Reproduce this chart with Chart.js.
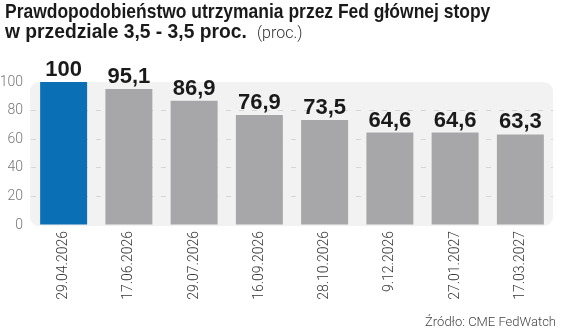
<!DOCTYPE html>
<html>
<head>
<meta charset="utf-8">
<script src="https://cdn.jsdelivr.net/npm/chart.js@4.4.1/dist/chart.umd.min.js"></script>
<style>
  html, body { margin: 0; padding: 0; background: #ffffff; }
  #wrap { position: relative; width: 564px; height: 334px; overflow: hidden; }
  canvas { position: absolute; left: 0; top: 0; }
  .t { position: absolute; white-space: nowrap; transform-origin: 0 0;
       font-family: "Liberation Sans Narrow", "Liberation Sans", sans-serif; font-weight: bold;
       font-size: 21px; line-height: 20px; color: #1a1a1a; }
  #l1 { left: 5px; top: 1px; }
  #l2 { left: 5px; top: 21px; }
  #unit { position: absolute; left: 257px; top: 24px; white-space: nowrap;
          font-family: Roboto, sans-serif; font-weight: 300; font-size: 16px; line-height: 18px; color: #333; }
  #source { position: absolute; right: 8px; top: 314px; font-family: Roboto, sans-serif; font-weight: 300;
            font-size: 13px; color: #444; white-space: nowrap; }
</style>
</head>
<body>
<div id="wrap">
  <canvas id="c" width="564" height="334"></canvas>
  <span class="t" id="l1">Prawdopodobieństwo utrzymania przez Fed głównej stopy</span>
  <span class="t" id="l2">w przedziale 3,5 - 3,5 proc.</span>
  <span id="unit">(proc.)</span>
  <div id="source">Źródło: CME FedWatch</div>
</div>
<script>
// ---- data ----
const categories = ["29.04.2026", "17.06.2026", "29.07.2026", "16.09.2026", "28.10.2026", "9.12.2026", "27.01.2027", "17.03.2027"];
const probabilities = [100, 95.1, 86.9, 76.9, 73.5, 64.6, 64.6, 63.3];
const valueLabels = ["100", "95,1", "86,9", "76,9", "73,5", "64,6", "64,6", "63,3"];
const yTicks = [0, 20, 40, 60, 80, 100];

// fit title line widths to the reference
function fit(id, w) {
  const el = document.getElementById(id);
  el.style.transform = 'scaleX(' + (w / el.offsetWidth) + ')';
}
fit('l1', 485);
fit('l2', 242);

const blue = '#0b6fb5';
const grey = '#a7a7a9';
const barColors = probabilities.map((v, i) => i === 0 ? blue : grey);

const panelPlugin = {
  id: 'panel',
  beforeDraw(chart) {
    const { ctx, chartArea: a } = chart;
    ctx.save();
    ctx.fillStyle = '#f2f2f2';
    ctx.beginPath();
    ctx.roundRect(a.left - 1, a.top, a.right - a.left + 1, a.bottom - a.top + 1, 9);
    ctx.fill();
    ctx.restore();
  }
};

const valuePlugin = {
  id: 'values',
  afterDatasetsDraw(chart) {
    const { ctx } = chart;
    const meta = chart.getDatasetMeta(0);
    ctx.save();
    ctx.font = 'bold 22px "Liberation Sans Narrow", "Liberation Sans", sans-serif';
    ctx.fillStyle = '#1a1a1a';
    ctx.textAlign = 'center';
    ctx.textBaseline = 'alphabetic';
    meta.data.forEach((bar, i) => {
      ctx.fillText(valueLabels[i], bar.x, bar.y - 6);
    });
    ctx.restore();
  }
};

new Chart(document.getElementById('c'), {
  type: 'bar',
  data: {
    labels: categories,
    datasets: [{
      data: probabilities,
      backgroundColor: barColors,
      borderWidth: 0,
      categoryPercentage: 0.8,
      barPercentage: 0.9
    }]
  },
  options: {
    responsive: false,
    animation: false,
    devicePixelRatio: 1,
    layout: { padding: { top: 82, right: 11, left: 0, bottom: 0 } },
    plugins: { legend: { display: false }, tooltip: { enabled: false }, title: { display: false } },
    scales: {
      x: {
        grid: { display: false, drawTicks: false },
        border: { display: false },
        afterFit(scale) { scale.height = 109; },
        ticks: {
          minRotation: 90, maxRotation: 90, padding: 6,
          color: '#333',
          font: { family: 'Roboto', weight: 300, size: 14 }
        }
      },
      y: {
        min: 0, max: 100,
        afterFit(scale) { scale.width = 31; },
        afterBuildTicks(scale) { scale.ticks = yTicks.map(v => ({ value: v })); },
        grid: {
          drawTicks: false,
          color: (c) => (c.tick && (c.tick.value === 0 || c.tick.value === 100)) ? 'rgba(0,0,0,0)' : '#d6d6d6',
          lineWidth: 1
        },
        border: { display: false, dash: [5, 8] },
        ticks: {
          padding: 8,
          color: '#777',
          font: { family: 'Roboto', weight: 300, size: 14 }
        }
      }
    }
  },
  plugins: [panelPlugin, valuePlugin]
});
</script>
</body>
</html>
